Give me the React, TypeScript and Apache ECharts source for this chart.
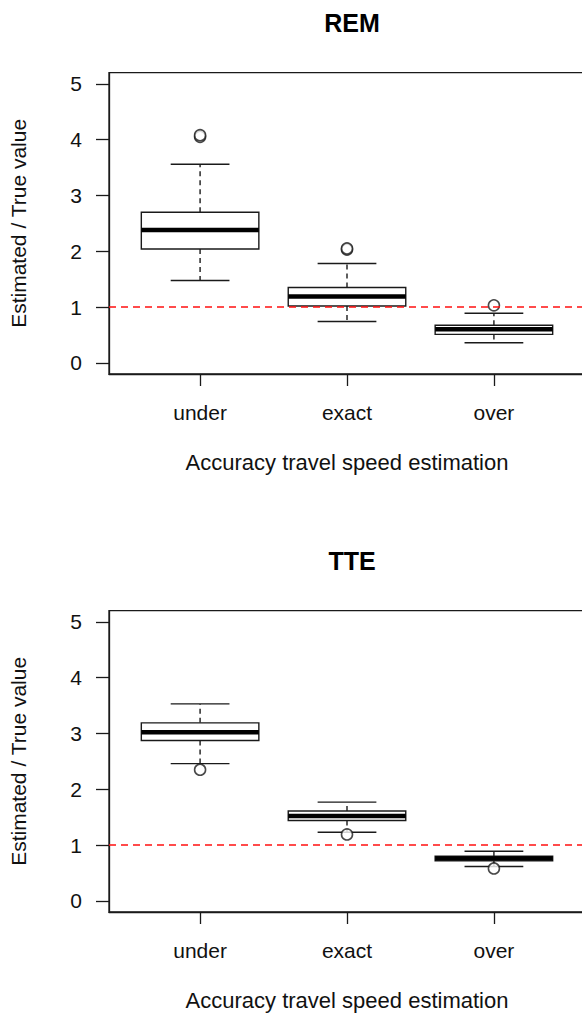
import React, { useEffect, useRef } from "react";
import * as echarts from "echarts";

const categories = ["under", "exact", "over"];
const panelTitles = ["REM", "TTE"];
const yTicks = [0, 1, 2, 3, 4, 5];
const xTicks = [1, 2, 3];
const yAxisTitle = "Estimated / True value";
const xAxisTitle = "Accuracy travel speed estimation";
const referenceValue = 1;

// [min, Q1, median, Q3, max] per category
const remStats = [
  [1.475, 2.04, 2.38, 2.7, 3.56],
  [0.74, 1.02, 1.19, 1.35, 1.78],
  [0.36, 0.51, 0.6, 0.675, 0.89],
];
const remOutliers = [
  [1, 4.05],
  [1, 4.08],
  [2, 2.03],
  [2, 2.05],
  [3, 1.03],
];
const tteStats = [
  [2.46, 2.875, 3.02, 3.19, 3.53],
  [1.23, 1.44, 1.52, 1.61, 1.77],
  [0.615, 0.716, 0.76, 0.8, 0.89],
];
const tteOutliers = [
  [1, 2.35],
  [2, 1.19],
  [3, 0.58],
];

const FONT = "Liberation Sans, Arial, Helvetica, sans-serif";
const INK = "#1a1a1a";

export default function App() {
  const ref = useRef<HTMLDivElement>(null);
  useEffect(() => {
    if (!ref.current) return;
    const chart = echarts.init(ref.current, null, { renderer: "svg" });

    const panels = [
      { stats: remStats, outliers: remOutliers, top: 72.7 },
      { stats: tteStats, outliers: tteOutliers, top: 610.7 },
    ];
    const plotH = 301.3;
    const plotLeft = 109;
    const plotW = 476;

    const renderBox = (params: any, api: any) => {
      const x = api.value(0);
      const pMin = api.coord([x, api.value(1)]);
      const pQ1 = api.coord([x, api.value(2)]);
      const pMed = api.coord([x, api.value(3)]);
      const pQ3 = api.coord([x, api.value(4)]);
      const pMax = api.coord([x, api.value(5)]);
      const hw = api.size([0.4, 0])[0];
      const cw = api.size([0.2, 0])[0];
      const cx = pMed[0];
      const solid = { stroke: INK, lineWidth: 1.4, fill: "none" };
      const dashed = { stroke: INK, lineWidth: 1.4, lineDash: [5, 4], fill: "none" };
      return {
        type: "group",
        children: [
          { type: "line", shape: { x1: cx, y1: pQ3[1], x2: cx, y2: pMax[1] }, style: dashed },
          { type: "line", shape: { x1: cx, y1: pQ1[1], x2: cx, y2: pMin[1] }, style: dashed },
          { type: "line", shape: { x1: cx - cw, y1: pMax[1], x2: cx + cw, y2: pMax[1] }, style: solid },
          { type: "line", shape: { x1: cx - cw, y1: pMin[1], x2: cx + cw, y2: pMin[1] }, style: solid },
          {
            type: "rect",
            shape: { x: cx - hw, y: pQ3[1], width: 2 * hw, height: pQ1[1] - pQ3[1] },
            style: { stroke: INK, lineWidth: 1.4, fill: "#fff" },
          },
          {
            type: "line",
            shape: { x1: cx - hw, y1: pMed[1], x2: cx + hw, y2: pMed[1] },
            style: { stroke: "#000", lineWidth: 4.5 },
          },
        ],
      };
    };

    const option: any = {
      animation: false,
      title: panels.map((p, i) => ({
        text: panelTitles[i],
        left: plotLeft + plotW / 2,
        textAlign: "center",
        top: p.top - 67,
        textStyle: { fontFamily: FONT, fontSize: 25, fontWeight: "bold", color: "#000" },
      })),
      grid: panels.map((p) => ({
        left: plotLeft,
        top: p.top,
        width: plotW,
        height: plotH,
        show: true,
        borderColor: INK,
        borderWidth: 1.3,
        backgroundColor: "transparent",
        containLabel: false,
      })),
      xAxis: panels.map((p, i) => ({
        type: "value",
        gridIndex: i,
        min: 0.38,
        max: 3.62,
        splitLine: { show: false },
        axisLine: { show: true, onZero: false, lineStyle: { color: INK, width: 1.3 } },
        axisTick: { show: true, customValues: xTicks, length: 12, inside: false, lineStyle: { color: INK, width: 1.3 } },
        axisLabel: {
          customValues: xTicks,
          formatter: (v: number) => categories[Math.round(v) - 1] ?? "",
          fontFamily: FONT,
          fontSize: 21,
          color: "#111",
          margin: 28,
        },
        name: xAxisTitle,
        nameLocation: "middle",
        nameGap: 77,
        nameTextStyle: { fontFamily: FONT, fontSize: 22, color: "#111" },
      })),
      yAxis: panels.map((p, i) => ({
        type: "value",
        gridIndex: i,
        min: -0.2,
        max: 5.2,
        splitLine: { show: false },
        axisLine: { show: true, onZero: false, lineStyle: { color: INK, width: 1.3 } },
        axisTick: { show: true, customValues: yTicks, length: 13, inside: false, lineStyle: { color: INK, width: 1.3 } },
        axisLabel: {
          customValues: yTicks,
          fontFamily: FONT,
          fontSize: 21,
          color: "#111",
          margin: 27,
        },
        name: yAxisTitle,
        nameLocation: "middle",
        nameRotate: 90,
        nameGap: 80,
        nameTextStyle: { fontFamily: FONT, fontSize: 21, color: "#111" },
      })),
      series: panels.flatMap((p, i) => [
        {
          type: "custom",
          xAxisIndex: i,
          yAxisIndex: i,
          renderItem: renderBox,
          encode: { x: 0, y: [1, 2, 3, 4, 5] },
          data: p.stats.map((s, k) => [k + 1, ...s]),
          z: 2,
        },
        {
          type: "scatter",
          xAxisIndex: i,
          yAxisIndex: i,
          symbol: "circle",
          symbolSize: 11,
          itemStyle: { color: "#fff", borderColor: INK, borderWidth: 1.6 },
          data: p.outliers,
          z: 3,
          markLine: {
            silent: true,
            symbol: "none",
            label: { show: false },
            lineStyle: { color: "#ff1010", type: [7, 5], width: 1.5 },
            data: [{ yAxis: referenceValue }],
          },
        },
      ]),
    };
    chart.setOption(option);
    return () => chart.dispose();
  }, []);
  return (
    <div
      style={{ position: "fixed", left: 0, top: 0, width: 582, height: 1014, overflow: "hidden", background: "#fff" }}
    >
      <div ref={ref} style={{ width: 600, height: 1014 }} />
    </div>
  );
}
